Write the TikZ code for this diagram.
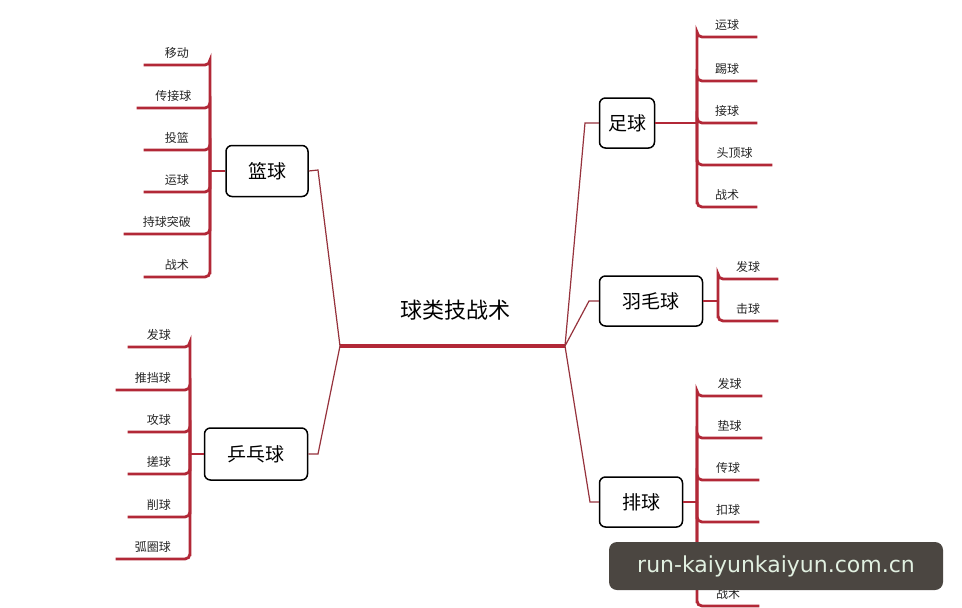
\documentclass[tikz,border=0pt]{standalone}
\usepackage{fontspec}
\setmainfont{Noto Sans CJK SC}
\begin{document}
\begin{tikzpicture}[x=1pt,y=-1pt,
  red/.style={draw={rgb,255:red,178;green,40;blue,55}},
  br/.style={red,line width=2.8pt,rounded corners=5pt},
  trunk/.style={draw={rgb,255:red,150;green,50;blue,60},line width=1.2pt},
  box/.style={draw=black,line width=1.5pt,rounded corners=6pt,fill=white,font=\fontsize{19}{19}\selectfont,inner sep=0pt},
  itL/.style={anchor=south east,inner xsep=0pt,inner ysep=6pt,font=\fontsize{12}{12}\selectfont,text=black!85},
  itR/.style={anchor=south west,inner xsep=0pt,inner ysep=6pt,font=\fontsize{12}{12}\selectfont,text=black!85}]
\useasboundingbox (0,0) rectangle (962,608);
\fill[white] (0,0) rectangle (962,608);
% centre
\node[font=\fontsize{22}{22}\selectfont] (title) at (455,310) {球类技战术};
\coordinate (cl) at (340,346); \coordinate (cr) at (565,346);
\draw[red,line width=3.2pt] (cl) -- (cr);
% boxes
\node[box,minimum width=82,minimum height=51] (bb) at (267,171) {篮球};
\node[box,minimum width=103,minimum height=52] (pp) at (256,454) {乒乓球};
\node[box,minimum width=55,minimum height=50] (fb) at (627,123) {足球};
\node[box,minimum width=103,minimum height=50] (bm) at (651,301) {羽毛球};
\node[box,minimum width=83,minimum height=50] (vb) at (641,502) {排球};
% trunks
\draw[trunk] (cl) -- (318,170) -- (bb.east);
\draw[trunk] (cl) -- (318,454) -- (pp.east);
\draw[trunk] (cr) -- (585,123) -- (fb.west);
\draw[trunk] (cr) -- (589,301) -- (bm.west);
\draw[trunk] (cr) -- (590,502) -- (vb.west);
% junctions
\coordinate (jb) at (210,171); \coordinate (jp) at (190,454);
\coordinate (jf) at (697,123); \coordinate (jm) at (718,301); \coordinate (jv) at (697,502);
\draw[red,line width=2.4pt] (bb.west) -- (jb);
\draw[red,line width=2.4pt] (pp.west) -- (jp);
\draw[red,line width=2.4pt] (fb.east) -- (jf);
\draw[red,line width=2.4pt] (bm.east) -- (jm);
\draw[red,line width=2.4pt] (vb.east) -- (jv);
% basketball
\foreach \y/\w/\t [count=\i] in {65/66/移动,108/73/传接球,150/66/投篮,192/66/运球,234/86/持球突破,277/66/战术}{
  \node[itL,minimum width=\w] (b\i) at (210,\y) {\t};
  \draw[br] (jb) |- (b\i.south east) -- (b\i.south west);}
% ping pong
\foreach \y/\w/\t [count=\i] in {347/62/发球,390/74/推挡球,432/62/攻球,474/62/搓球,517/62/削球,559/74/弧圈球}{
  \node[itL,minimum width=\w] (p\i) at (190,\y) {\t};
  \draw[br] (jp) |- (p\i.south east) -- (p\i.south west);}
% football
\foreach \y/\w/\t [count=\i] in {37/60/运球,81/60/踢球,123/60/接球,165/75/头顶球,207/60/战术}{
  \node[itR,minimum width=\w] (f\i) at (697,\y) {\t};
  \draw[br] (jf) |- (f\i.south west) -- (f\i.south east);}
% badminton
\foreach \y/\w/\t [count=\i] in {279/60/发球,321/60/击球}{
  \node[itR,minimum width=\w] (m\i) at (718,\y) {\t};
  \draw[br] (jm) |- (m\i.south west) -- (m\i.south east);}
% volleyball
\foreach \y/\w/\t [count=\i] in {396/65/发球,438/65/垫球,480/62/传球,522/62/扣球,564/62/拦网,606/62/战术}{
  \node[itR,minimum width=\w] (v\i) at (697,\y) {\t};
  \draw[br] (jv) |- (v\i.south west) -- (v\i.south east);}
% watermark
\node[fill={rgb,255:red,75;green,70;blue,65},rounded corners=8pt,minimum width=334,minimum height=48,inner sep=0pt,
  text={rgb,255:red,225;green,240;blue,225},font=\fontsize{22}{22}\selectfont] (wm) at (776,566)
  {\fontspec{DejaVu Sans}run-kaiyunkaiyun.com.cn};
\end{tikzpicture}
\end{document}
